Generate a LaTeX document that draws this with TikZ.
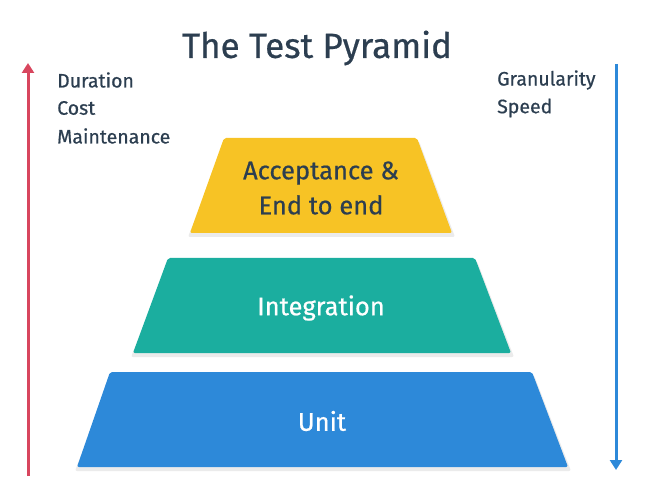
\documentclass[tikz,border=0pt]{standalone}
\usepackage{fontspec}
\setmainfont[FakeBold=0.6]{Fira Sans}
\usetikzlibrary{arrows.meta}
\definecolor{txt}{HTML}{2C3E50}
\definecolor{cyel}{HTML}{F7C325}
\definecolor{cgrn}{HTML}{1BAE9F}
\definecolor{cblu}{HTML}{2D89D9}
\definecolor{cred}{HTML}{D8465E}
\tikzset{
  layer/.style={rounded corners=2pt},
  shadowlayer/.style={rounded corners=2pt, fill=black, opacity=0.08},
  side/.style={text=txt, font=\fontsize{19.5}{22}\selectfont, anchor=west, inner sep=0pt},
  label/.style={font=\fontsize{25.5}{30}\selectfont, align=center},
  axis/.style={line width=3pt, -{Triangle[width=12pt,length=10pt]}}
}
\begin{document}
\begin{tikzpicture}[x=1pt,y=-1pt]
\useasboundingbox (0,0) rectangle (652,502);
% arrows
\coordinate (rb) at (28,476);
\coordinate (rt) at (28,63);
\coordinate (bt) at (616,64);
\coordinate (bb) at (616,470);
\draw[axis, cred] (rb) -- (rt);
\draw[axis, cblu] (bt) -- (bb);
% title
\node[text=txt, font=\fontsize{35}{40}\selectfont] (title) at (317,48) {The Test Pyramid};
% side labels
\node[side] (dur) at (57,80) {Duration};
\node[side] (cost) at (57,108) {Cost};
\node[side] (mnt) at (57,136) {Maintenance};
\node[side] (gran) at (497,80) {Granularity};
\node[side] (spd) at (497,108) {Speed};
% shadows
\fill[shadowlayer] (226,141) -- (419,141) -- (455,237) -- (188,237) -- cycle;
\fill[shadowlayer] (170,261) -- (477,261) -- (514,357) -- (131,357) -- cycle;
\fill[shadowlayer] (112,375) -- (534,375) -- (571,471) -- (75,471) -- cycle;
% layers
\fill[layer, cyel] (224,138) -- (417,138) -- (452,233) -- (190,233) -- cycle;
\fill[layer, cgrn] (168,258) -- (475,258) -- (511,353) -- (133,353) -- cycle;
\fill[layer, cblu] (110,372) -- (532,372) -- (568,467) -- (77,467) -- cycle;
% labels
\node[label, text=txt, font=\fontsize{25.5}{35}\selectfont] (acc) at (321,188) {Acceptance \&\\End to end};
\node[label, text=white] (int) at (321,308) {Integration};
\node[label, text=white] (unit) at (322,421) {Unit};
\end{tikzpicture}
\end{document}
